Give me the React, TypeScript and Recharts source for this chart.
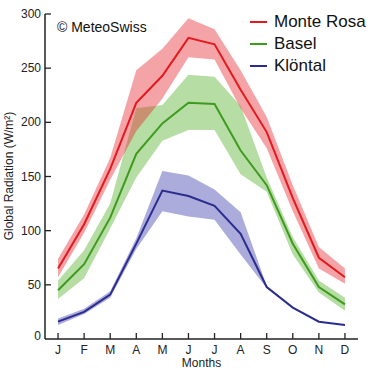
import React from 'react';
import { ComposedChart, Area, Line, XAxis, YAxis, Legend, Label } from 'recharts';

const months = ['J', 'F', 'M', 'A', 'M', 'J', 'J', 'A', 'S', 'O', 'N', 'D'];
const monthIndex = [1, 2, 3, 4, 5, 6, 7, 8, 9, 10, 11, 12];
const yTicks = [0, 50, 100, 150, 200, 250, 300];

const monteRosa = [65, 106, 157, 218, 243, 278, 272, 230, 191, 130, 75, 57];
const monteRosaLow = [57, 98, 147, 192, 222, 260, 258, 213, 176, 118, 65, 51];
const monteRosaHigh = [74, 115, 167, 248, 268, 296, 286, 248, 205, 142, 85, 65];

const basel = [45, 69, 112, 171, 199, 218, 217, 174, 142, 88, 48, 32];
const baselLow = [37, 56, 102, 149, 183, 193, 193, 152, 136, 78, 43, 26];
const baselHigh = [54, 82, 125, 213, 216, 244, 242, 215, 149, 94, 54, 38];

const kloental = [16, 25, 41, 88, 137, 132, 123, 97, 48, 29, 16, 13];
const kloentalLow = [13, 23, 38, 83, 118, 113, 110, 78, 47, 29, 16, 13];
const kloentalHigh = [19, 28, 44, 93, 155, 151, 138, 117, 49, 29, 16, 13];

const seriesNames = ['Monte Rosa', 'Basel', 'Klöntal'];
const seriesColors = ['#e3191f', '#3f9b1e', '#2a2c8e'];
const bandColors = ['#e4262b', '#5cb335', '#4f4fb5'];

const data = monthIndex.map((m, i) => ({
  m,
  mr: monteRosa[i],
  mrBand: [monteRosaLow[i], monteRosaHigh[i]],
  ba: basel[i],
  baBand: [baselLow[i], baselHigh[i]],
  kl: kloental[i],
  klBand: [kloentalLow[i], kloentalHigh[i]],
}));

const FONT = "Arial, 'Liberation Sans', sans-serif";

const YTick = (props: any) => {
  const { x, y, payload } = props;
  const v = payload.value;
  const ty = v === 0 ? y - 3 : y;
  return (
    <g>
      {v !== 0 && <line x1={x} x2={x + 6} y1={y} y2={y} stroke="#222" strokeWidth={1.3} />}
      <text x={x - 4} y={ty} dy={4} textAnchor="end" fontSize={12} fontFamily={FONT} fill="#222">
        {v}
      </text>
    </g>
  );
};

const XTick = (props: any) => {
  const { x, y, payload } = props;
  const label = months[payload.value - 1];
  return (
    <g>
      <line x1={x} x2={x} y1={y} y2={y - 6} stroke="#222" strokeWidth={1.3} />
      <text x={x} y={y + 15} textAnchor="middle" fontSize={12} fontFamily={FONT} fill="#222">
        {label}
      </text>
    </g>
  );
};

const renderLegend = () => (
  <div style={{ fontFamily: FONT }}>
    {seriesNames.map((n, i) => (
      <div key={n} style={{ display: 'flex', alignItems: 'center', height: 22 }}>
        <svg width={25} height={22}>
          <line x1={1} x2={18} y1={11} y2={11} stroke={seriesColors[i]} strokeWidth={2} />
        </svg>
        <span style={{ fontSize: 17, color: '#111', lineHeight: '22px' }}>{n}</span>
      </div>
    ))}
  </div>
);

export default function App() {
  return (
    <div style={{ position: 'absolute', left: 0, top: 0, width: 374, height: 372, background: '#fff' }}>
      <ComposedChart
        width={374}
        height={372}
        data={data}
        margin={{ top: 14, right: 16, bottom: 0, left: 0 }}
      >
        <XAxis
          dataKey="m"
          type="number"
          domain={[0.5, 12.5]}
          ticks={monthIndex}
          height={33}
          tickSize={0}
          tickMargin={0}
          tick={<XTick />}
          axisLine={{ stroke: '#222', strokeWidth: 1.5 }}
          tickLine={false}
          allowDataOverflow
        >
          <Label
            content={(p: any) => {
              const vb = p.viewBox;
              return (
                <text x={vb.x + vb.width / 2} y={vb.y + 28} textAnchor="middle" fontSize={12} fontFamily={FONT} fill="#222">
                  Months
                </text>
              );
            }}
          />
        </XAxis>
        <YAxis
          type="number"
          domain={[0, 300]}
          ticks={yTicks}
          width={45}
          tickSize={0}
          tickMargin={0}
          tick={<YTick />}
          axisLine={{ stroke: '#222', strokeWidth: 1.5 }}
          tickLine={false}
          interval={0}
        >
          <Label
            content={() => (
              <text
                x={13}
                y={176}
                transform="rotate(-90 13 176)"
                textAnchor="middle"
                fontSize={12}
                fontFamily={FONT}
                fill="#222"
              >
                Global Radiation (W/m²)
              </text>
            )}
          />
        </YAxis>
        <Area dataKey="klBand" type="linear" stroke="none" fill={bandColors[2]} fillOpacity={0.48} isAnimationActive={false} legendType="none" />
        <Area dataKey="baBand" type="linear" stroke="none" fill={bandColors[1]} fillOpacity={0.45} isAnimationActive={false} legendType="none" />
        <Area dataKey="mrBand" type="linear" stroke="none" fill={bandColors[0]} fillOpacity={0.42} isAnimationActive={false} legendType="none" />
        <Line dataKey="kl" name={seriesNames[2]} type="linear" stroke={seriesColors[2]} strokeWidth={2} dot={false} isAnimationActive={false} />
        <Line dataKey="ba" name={seriesNames[1]} type="linear" stroke={seriesColors[1]} strokeWidth={2} dot={false} isAnimationActive={false} />
        <Line dataKey="mr" name={seriesNames[0]} type="linear" stroke={seriesColors[0]} strokeWidth={2} dot={false} isAnimationActive={false} />
        <Legend
          layout="vertical"
          align="center"
          verticalAlign="middle"
          content={renderLegend}
          wrapperStyle={{ position: 'absolute', left: 249, top: 11, width: 125, height: 66 }}
        />
      </ComposedChart>
      <div
        style={{
          position: 'absolute',
          left: 57,
          top: 18,
          fontFamily: FONT,
          fontSize: 14,
          color: '#111',
          lineHeight: '18px',
          whiteSpace: 'nowrap',
        }}
      >
        © MeteoSwiss
      </div>
    </div>
  );
}
